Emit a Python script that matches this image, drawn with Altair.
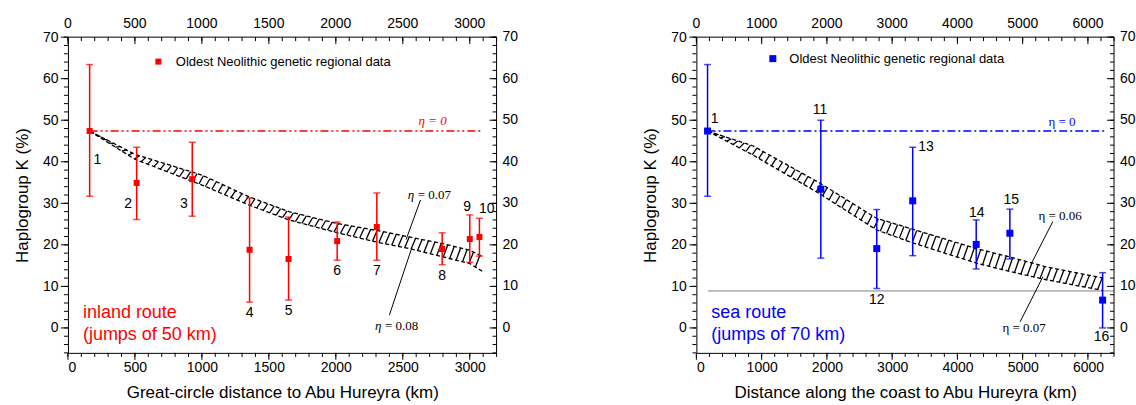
import altair as alt
import numpy as np
import pandas as pd

SANS = "Liberation Sans"
SERIF = "Liberation Serif"
RED = "#ff0000"
BLUE = "#0000ff"

# shared vertical axis (haplogroup K frequency, %)
Y_DOMAIN = [-6, 70]
Y_MAJOR = list(range(0, 71, 10))
Y_MINOR = list(range(-6, 71, 2))
PLOT_H = 316
LEGEND_TEXT = "Oldest Neolithic genetic regional data"

# ---- inland route: great-circle distance ----
IN_SITE = ["1", "2", "3", "4", "5", "6", "7", "8", "9", "10"]
IN_DIST = [162, 513, 928, 1356, 1647, 2010, 2306, 2794, 3000, 3072]
IN_K = [47.4, 34.9, 35.8, 18.8, 16.6, 20.9, 24.3, 19.0, 21.4, 21.9]
IN_HI = [63.4, 43.5, 44.7, 31.3, 26.7, 25.5, 32.5, 22.9, 27.2, 26.4]
IN_LO = [31.7, 26.1, 26.9, 6.2, 6.7, 16.3, 16.3, 15.2, 15.8, 17.3]
IN_LAB_X = [219, 450, 866, 1356, 1647, 2010, 2306, 2794, 2980, 3127]
IN_LAB_Y = [40.4, 29.9, 29.9, 3.5, 4.1, 13.7, 13.7, 12.6, 29.2, 28.6]
IN_X_MAJOR = list(range(0, 3001, 500))
IN_X_MINOR = list(range(0, 3201, 100))
# model curves, eta = 0.07 (upper) and eta = 0.08 (lower)
IN_BAND_X = [162, 500, 1000, 1350, 1650, 2000, 2300, 2550, 2800, 3000, 3095]
IN_BAND_UP = [47.4, 41.8, 36.8, 31.6, 28.0, 25.2, 23.5, 21.9, 20.3, 18.7, 17.2]
IN_BAND_LO = [47.4, 40.6, 34.4, 29.6, 26.0, 23.0, 20.7, 19.1, 17.1, 15.5, 13.6]
IN_ETA0_X = [162, 3097]
IN_ETA0_K = 47.4
IN_ETA0_LAB = [2722, 49.9]
IN_NOTE = ["= 0.07", "= 0.08"]
IN_NOTE_X = [2537, 2293]
IN_NOTE_Y = [32.0, 0.5]
IN_LEAD_X1 = [2632, 2400]
IN_LEAD_Y1 = [30.8, 3.1]
IN_LEAD_X2 = [2525, 2562]
IN_LEAD_Y2 = [21.3, 18.8]

# ---- sea route: distance along the coast ----
SEA_SITE = ["1", "11", "12", "13", "14", "15", "16"]
SEA_DIST = [171, 1907, 2764, 3315, 4288, 4804, 6225]
SEA_K = [47.4, 33.4, 19.1, 30.6, 20.1, 22.8, 6.7]
SEA_HI = [63.4, 50.0, 28.5, 43.5, 26.0, 28.6, 13.3]
SEA_LO = [31.7, 16.8, 9.5, 17.4, 14.2, 16.6, 0.0]
SEA_LAB_X = [280, 1896, 2764, 3518, 4298, 4824, 6207]
SEA_LAB_Y = [50.2, 52.5, 6.7, 43.6, 27.7, 30.8, -2.2]
SEA_X_MAJOR = list(range(0, 6001, 1000))
SEA_X_MINOR = list(range(0, 6401, 200))
# model curves, eta = 0.06 (upper) and eta = 0.07 (lower)
SEA_BAND_X = [171, 870, 1900, 2760, 3310, 4290, 4800, 5360, 6235]
SEA_BAND_UP = [47.4, 43.8, 34.8, 26.4, 23.8, 19.1, 17.1, 14.7, 12.0]
SEA_BAND_LO = [47.4, 41.6, 32.2, 23.6, 20.5, 15.6, 13.6, 11.6, 9.0]
SEA_ETA0_X = [171, 6290]
SEA_ETA0_K = 47.4
SEA_ETA0_LAB = [5602, 49.6]
SEA_FLOOR_X = [179, 6400]
SEA_FLOOR_K = 8.9
SEA_NOTE = ["\u03b7 = 0.06", "\u03b7 = 0.07"]
SEA_NOTE_X = [5574, 5023]
SEA_NOTE_Y = [26.9, -0.1]
SEA_LEAD_X1 = [5462, 4962]
SEA_LEAD_Y1 = [25.6, 1.5]
SEA_LEAD_X2 = [5130, 5309]
SEA_LEAD_Y2 = [15.4, 12.3]


def hatch_strokes(xs, up, lo, step, slant):
    """Diagonal strokes that fill the band between two model curves."""
    x0 = np.arange(xs[0], xs[-1] - slant, step)
    x1 = x0 + slant
    return pd.DataFrame({
        "x": x0, "y": np.interp(x0, xs, lo),
        "x2": x1, "y2": np.interp(x1, xs, up),
    })


def one_row():
    return pd.DataFrame({"k": [0]})


def panel(p):
    W, xmax, color = p["width"], p["xmax"], p["color"]
    xs = alt.Scale(domain=[0, xmax], nice=False, zero=False)
    ys = alt.Scale(domain=Y_DOMAIN, nice=False, zero=False)
    x_axis = alt.Axis(orient="bottom", values=p["x_major"], format="d", ticks=False, labelPadding=8,
                      title=p["x_title"], titlePadding=10)
    y_axis = alt.Axis(orient="left", values=Y_MAJOR, format="d", ticks=False, labelPadding=10,
                      title="Haplogroup K (%)", titlePadding=11)

    def X(f):
        return alt.X(f, type="quantitative", scale=xs, axis=x_axis)

    def Y(f):
        return alt.Y(f, type="quantitative", scale=ys, axis=y_axis)

    layers = []

    # hatched model band
    hatch = hatch_strokes(p["band_x"], p["band_up"], p["band_lo"], p["h_step"], p["h_slant"])
    layers.append(alt.Chart(hatch).mark_rule(color="black", strokeWidth=1.3).encode(
        x=X("x"), y=Y("y"), x2="x2", y2="y2"))
    edges = pd.DataFrame({
        "x": p["band_x"] * 2,
        "k": p["band_up"] + p["band_lo"],
        "curve": ["up"] * len(p["band_x"]) + ["lo"] * len(p["band_x"]),
    })
    layers.append(alt.Chart(edges).mark_line(color="black", strokeWidth=1.3, strokeDash=[4, 2.5]).encode(
        x=X("x"), y=Y("k"), detail="curve:N"))

    # eta = 0 level
    eta0 = pd.DataFrame({"x": p["eta0_x"], "k": [p["eta0_k"]] * 2})
    layers.append(alt.Chart(eta0).mark_line(color=color, strokeWidth=1.5, strokeDash=p["eta0_dash"]).encode(
        x=X("x"), y=Y("k")))
    layers.append(alt.Chart(pd.DataFrame({"x": [p["eta0_lab"][0]], "k": [p["eta0_lab"][1]]}))
                  .mark_text(text="\u03b7 = 0", font=SERIF, fontSize=13, color=color,
                             fontStyle=p["eta_style"], align="center", baseline="middle")
                  .encode(x=X("x"), y=Y("k")))

    if "floor_x" in p:
        floor = pd.DataFrame({"x": p["floor_x"], "k": [p["floor_k"]] * 2})
        layers.append(alt.Chart(floor).mark_line(color="#808080", strokeWidth=1).encode(
            x=X("x"), y=Y("k")))

    # regional data with error bars
    pts = pd.DataFrame({
        "site": p["site"], "dist": p["dist"], "k": p["k"], "hi": p["hi"], "lo": p["lo"],
        "lx": p["lab_x"], "ly": p["lab_y"], "series": LEGEND_TEXT,
    })
    base = alt.Chart(pts)
    layers.append(base.mark_rule(color=color, strokeWidth=1.5).encode(x=X("dist"), y=Y("lo"), y2="hi"))
    layers.append(base.mark_tick(color=color, orient="horizontal", size=7, thickness=1.5).encode(
        x=X("dist"), y=Y("hi")))
    layers.append(base.mark_tick(color=color, orient="horizontal", size=7, thickness=1.5).encode(
        x=X("dist"), y=Y("lo")))
    layers.append(base.mark_square(size=p["sq"], filled=True, opacity=1).encode(
        x=X("dist"), y=Y("k"),
        color=alt.Color("series:N", scale=alt.Scale(range=[color]),
                        legend=alt.Legend(orient="none", legendX=p["leg"][0], legendY=p["leg"][1],
                                          title=None, symbolType="square", symbolSize=p["sq"],
                                          symbolStrokeWidth=0, labelFont=SANS, labelFontSize=13,
                                          labelColor="black", labelOffset=p["leg_off"], labelLimit=0,
                                          padding=0))))
    layers.append(base.mark_text(font=SANS, fontSize=14, color="black", align="center", baseline="middle")
                  .encode(x=X("lx"), y=Y("ly"), text="site:N"))

    # eta labels with leader lines
    leads = pd.DataFrame({"x": p["lead_x1"], "y": p["lead_y1"], "x2": p["lead_x2"], "y2": p["lead_y2"]})
    layers.append(alt.Chart(leads).mark_rule(color="black", strokeWidth=1).encode(
        x=X("x"), y=Y("y"), x2="x2", y2="y2"))
    notes = pd.DataFrame({"t": p["note"], "x": p["note_x"], "y": p["note_y"]})
    if p["eta_style"] == "italic":
        layers.append(alt.Chart(notes).mark_text(text="\u03b7", font=SERIF, fontSize=13, fontStyle="italic",
                                                 color="black", align="left", baseline="middle")
                      .encode(x=X("x"), y=Y("y")))
        layers.append(alt.Chart(notes).mark_text(font=SERIF, fontSize=13, color="black", align="left",
                                                 baseline="middle", dx=10)
                      .encode(x=X("x"), y=Y("y"), text="t:N"))
    else:
        layers.append(alt.Chart(notes).mark_text(font=SERIF, fontSize=13, color="black", align="center",
                                                 baseline="middle")
                      .encode(x=X("x"), y=Y("y"), text="t:N"))

    # route caption
    layers.append(alt.Chart(one_row()).mark_text(text=p["route"], font=SANS, fontSize=18, color=color,
                                                 align="left", baseline="alphabetic", lineHeight=22)
                  .encode(x=alt.value(15), y=alt.value(281)))

    # frame ticks: outward on left/bottom, inward on top/right
    ymaj = pd.DataFrame({"v": Y_MAJOR, "t": [str(v) for v in Y_MAJOR]})
    ymin = pd.DataFrame({"v": Y_MINOR})
    xmaj = pd.DataFrame({"v": p["x_major"], "t": [str(v) for v in p["x_major"]]})
    xmin = pd.DataFrame({"v": p["x_minor"]})
    tick = dict(color="black", strokeWidth=1)

    layers.append(alt.Chart(ymin).mark_rule(**tick).encode(y=Y("v"), x=alt.value(-4), x2=alt.value(0)))
    layers.append(alt.Chart(ymaj).mark_rule(**tick).encode(y=Y("v"), x=alt.value(-7), x2=alt.value(0)))
    layers.append(alt.Chart(ymin).mark_rule(**tick).encode(y=Y("v"), x=alt.value(W - 4), x2=alt.value(W)))
    layers.append(alt.Chart(ymaj).mark_rule(**tick).encode(y=Y("v"), x=alt.value(W - 7), x2=alt.value(W)))
    layers.append(alt.Chart(xmin).mark_rule(**tick).encode(
        x=X("v"), y=alt.value(PLOT_H), y2=alt.value(PLOT_H + 4)))
    layers.append(alt.Chart(xmaj).mark_rule(**tick).encode(
        x=X("v"), y=alt.value(PLOT_H), y2=alt.value(PLOT_H + 7)))
    layers.append(alt.Chart(xmin).mark_rule(**tick).encode(x=X("v"), y=alt.value(0), y2=alt.value(4)))
    layers.append(alt.Chart(xmaj).mark_rule(**tick).encode(x=X("v"), y=alt.value(0), y2=alt.value(7)))

    # frame lines on top and right
    layers.append(alt.Chart(one_row()).mark_rule(**tick).encode(
        x=alt.value(0), x2=alt.value(W), y=alt.value(0)))
    layers.append(alt.Chart(one_row()).mark_rule(**tick).encode(
        x=alt.value(W), y=alt.value(0), y2=alt.value(PLOT_H)))

    # tick labels on top and right
    layers.append(alt.Chart(xmaj).mark_text(font=SANS, fontSize=14, color="black", align="center",
                                            baseline="alphabetic").encode(
        x=X("v"), y=alt.value(-9), text="t:N"))
    layers.append(alt.Chart(ymaj).mark_text(font=SANS, fontSize=14, color="black", align="left",
                                            baseline="middle").encode(
        y=Y("v"), x=alt.value(W + 6), text="t:N"))

    return alt.layer(*layers).properties(width=W, height=PLOT_H)


inland = panel(dict(
    width=429, xmax=3200, color=RED,
    site=IN_SITE, dist=IN_DIST, k=IN_K, hi=IN_HI, lo=IN_LO, lab_x=IN_LAB_X, lab_y=IN_LAB_Y,
    band_x=IN_BAND_X, band_up=IN_BAND_UP, band_lo=IN_BAND_LO, h_step=48, h_slant=34,
    eta0_x=IN_ETA0_X, eta0_k=IN_ETA0_K, eta0_lab=IN_ETA0_LAB, eta0_dash=[8, 3, 2, 3, 2, 3],
    eta_style="italic",
    note=IN_NOTE, note_x=IN_NOTE_X, note_y=IN_NOTE_Y,
    lead_x1=IN_LEAD_X1, lead_y1=IN_LEAD_Y1, lead_x2=IN_LEAD_X2, lead_y2=IN_LEAD_Y2,
    route=["inland route", "(jumps of 50 km)"],
    x_major=IN_X_MAJOR, x_minor=IN_X_MINOR,
    x_title="Great-circle distance to Abu Hureyra (km)",
    sq=36, leg=[84, 18], leg_off=11,
))

sea = panel(dict(
    width=418, xmax=6400, color=BLUE,
    site=SEA_SITE, dist=SEA_DIST, k=SEA_K, hi=SEA_HI, lo=SEA_LO, lab_x=SEA_LAB_X, lab_y=SEA_LAB_Y,
    band_x=SEA_BAND_X, band_up=SEA_BAND_UP, band_lo=SEA_BAND_LO, h_step=98, h_slant=70,
    eta0_x=SEA_ETA0_X, eta0_k=SEA_ETA0_K, eta0_lab=SEA_ETA0_LAB, eta0_dash=[8, 3, 2, 3],
    eta_style="normal",
    floor_x=SEA_FLOOR_X, floor_k=SEA_FLOOR_K,
    note=SEA_NOTE, note_x=SEA_NOTE_X, note_y=SEA_NOTE_Y,
    lead_x1=SEA_LEAD_X1, lead_y1=SEA_LEAD_Y1, lead_x2=SEA_LEAD_X2, lead_y2=SEA_LEAD_Y2,
    route=["sea route", "(jumps of 70 km)"],
    x_major=SEA_X_MAJOR, x_minor=SEA_X_MINOR,
    x_title="Distance along the coast to Abu Hureyra (km)",
    sq=49, leg=[70, 15], leg_off=10,
))

chart = alt.hconcat(inland, sea, spacing=123).resolve_scale(color="independent").properties(
    padding={"left": 13, "top": 17, "right": 0, "bottom": 0},
    background="white",
).configure_view(stroke=None).configure_axis(
    labelFont=SANS, labelFontSize=14, labelColor="black",
    titleFont=SANS, titleFontSize=17, titleFontWeight="normal", titleColor="black",
    domainColor="black", domainWidth=1, grid=False,
)

chart.save("out.html", embed_options={"renderer": "svg", "actions": False})
